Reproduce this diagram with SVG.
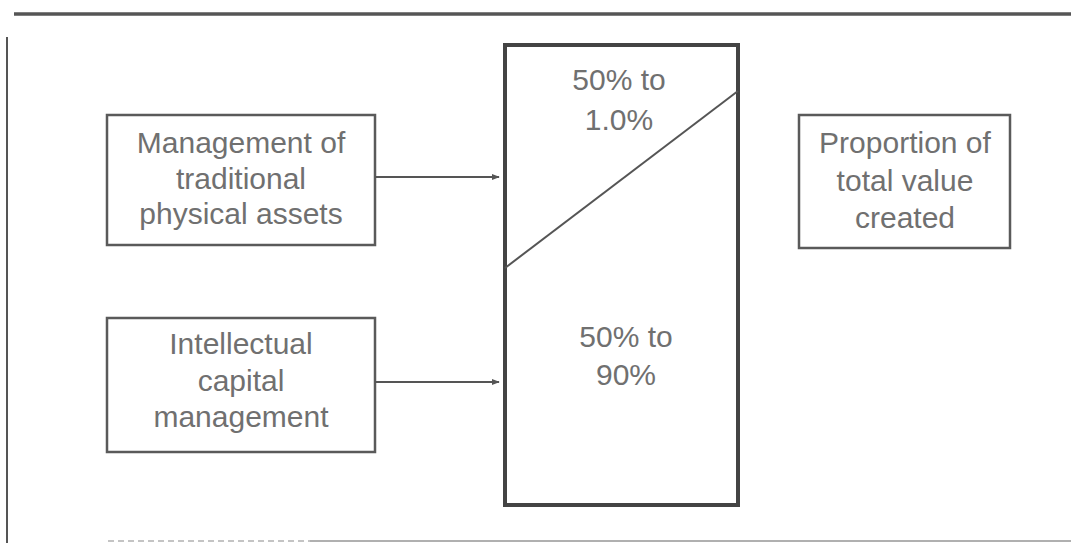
<svg xmlns="http://www.w3.org/2000/svg" width="1071" height="543" viewBox="0 0 1071 543">
<defs>
<marker id="arr" viewBox="0 0 10 10" refX="9" refY="5" markerWidth="4" markerHeight="4" orient="auto" markerUnits="strokeWidth">
<path d="M0,1 L10,5 L0,9 z" fill="#555"/>
</marker>
<style>
.box{fill:#fff;stroke:#5a5a5a;stroke-width:2.5}
.big{fill:#fff;stroke:#444;stroke-width:4}
.t{font-family:"Liberation Sans",Arial,sans-serif;font-size:30px;fill:#707070;text-anchor:middle}
.c{stroke:#555;stroke-width:2;fill:none}
.frame{stroke:#555;fill:none}
</style>
</defs>
<rect width="1071" height="543" fill="#fff"/>
<g id="frame">
<line class="frame" x1="14" y1="14" x2="1071" y2="14" stroke-width="3.5"/>
<line class="frame" x1="7" y1="37" x2="7" y2="543" stroke-width="2"/>
<line x1="108" y1="541" x2="310" y2="541" stroke="#c4c4c4" stroke-width="2" stroke-dasharray="6 4"/>
<line x1="310" y1="541" x2="1071" y2="541" stroke="#b0b0b0" stroke-width="2"/>
</g>
<g id="node-traditional">
<rect class="box" x="107" y="115" width="268" height="130"/>
<text class="t" x="241" y="153">Management of</text>
<text class="t" x="241" y="189">traditional</text>
<text class="t" x="241" y="224">physical assets</text>
</g>
<g id="node-intellectual">
<rect class="box" x="107" y="318" width="268" height="134"/>
<text class="t" x="241" y="354">Intellectual</text>
<text class="t" x="241" y="391">capital</text>
<text class="t" x="241" y="427">management</text>
</g>
<g id="node-value">
<rect class="big" x="505" y="45" width="233" height="460"/>
<line class="c" x1="505" y1="268" x2="738" y2="91"/>
<text class="t" x="619" y="90">50% to</text>
<text class="t" x="619" y="130">1.0%</text>
<text class="t" x="626" y="347">50% to</text>
<text class="t" x="626" y="385">90%</text>
</g>
<g id="node-proportion">
<rect class="box" x="799" y="115" width="211" height="133"/>
<text class="t" x="905" y="153">Proportion of</text>
<text class="t" x="905" y="191">total value</text>
<text class="t" x="905" y="228">created</text>
</g>
<g id="connectors">
<line class="c" x1="375" y1="177" x2="499" y2="177" marker-end="url(#arr)"/>
<line class="c" x1="375" y1="382" x2="499" y2="382" marker-end="url(#arr)"/>
</g>
</svg>
